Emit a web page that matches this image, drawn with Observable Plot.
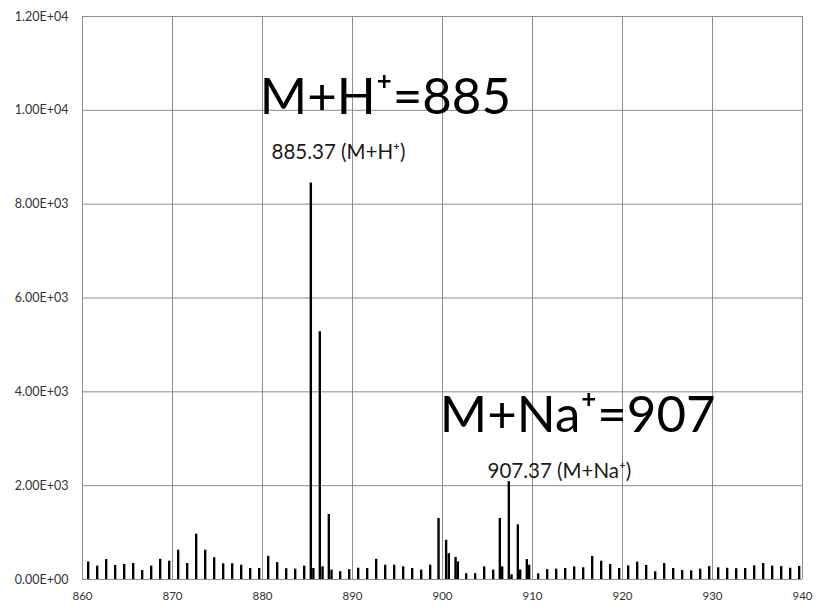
<!DOCTYPE html>
<html>
<head>
<meta charset="utf-8">
<script src="https://cdn.jsdelivr.net/npm/d3@7"></script>
<script src="https://cdn.jsdelivr.net/npm/@observablehq/plot@0.6"></script>
<style>
  html, body { margin: 0; padding: 0; background: #fff; }
  #chart { width: 818px; height: 610px; }
</style>
</head>
<body>
<div id="chart"></div>
<script>
// m/z of each peak and its intensity (counts)
const mz = [
  860.63, 861.63, 862.63, 863.63, 864.63, 865.63, 866.63, 867.63, 868.63, 869.63,
  870.63, 871.63, 872.63, 873.63, 874.63, 875.63, 876.63, 877.63, 878.63, 879.63,
  880.63, 881.63, 882.63, 883.63, 884.63, 885.37, 885.65, 886.37, 886.67, 887.37,
  887.67, 888.63, 889.63, 890.63, 891.63, 892.63, 893.63, 894.63, 895.63, 896.63,
  897.63, 898.63, 899.56, 900.40, 900.70, 901.45, 901.70, 902.63, 903.63, 904.63,
  905.63, 906.37, 906.63, 907.37, 907.67, 908.37, 908.63, 909.37, 909.63, 910.63,
  911.63, 912.63, 913.63, 914.63, 915.63, 916.63, 917.63, 918.63, 919.63, 920.63,
  921.63, 922.63, 923.63, 924.63, 925.63, 926.63, 927.63, 928.63, 929.63, 930.63,
  931.63, 932.63, 933.63, 934.63, 935.63, 936.63, 937.63, 938.63, 939.63
];
const intensity = [
  375, 285, 425, 300, 320, 340, 190, 285, 430, 390,
  625, 340, 965, 625, 465, 335, 335, 305, 235, 235,
  495, 360, 230, 220, 285, 8450, 235, 5280, 270, 1385,
  200, 165, 210, 240, 235, 430, 305, 305, 270, 235,
  200, 305, 1300, 835, 550, 470, 375, 125, 125, 270,
  200, 1300, 270, 2085, 100, 1165, 205, 425, 305, 120,
  210, 220, 235, 270, 250, 490, 390, 320, 235, 290,
  370, 300, 165, 340, 235, 190, 185, 220, 275, 250,
  240, 230, 235, 290, 340, 285, 275, 240, 280
];

// axis ticks and their labels
const xTicks = [860, 870, 880, 890, 900, 910, 920, 930, 940];
const xTickLabels = ["860", "870", "880", "890", "900", "910", "920", "930", "940"];
const yTicks = [0, 2000, 4000, 6000, 8000, 10000, 12000];
const yTickLabels = ["0.00E+00", "2.00E+03", "4.00E+03", "6.00E+03", "8.00E+03", "1.00E+04", "1.20E+04"];

// annotations (anchored in data units)
const bigLabels = ["M+H\u207A=885", "M+Na\u207A=907"];
const bigLabelX = [879.7, 899.7];
const bigLabelY = [10280, 3500];
const smallLabels = ["885.37 (M+H\u207A)", "907.37 (M+Na\u207A)"];
const smallLabelX = [881.0, 905.0];
const smallLabelY = [9100, 2300];

const peaks = mz.map((m, i) => ({mz: m, intensity: intensity[i]}));
const big = bigLabels.map((t, i) => ({text: t, x: bigLabelX[i], y: bigLabelY[i]}));
const small = smallLabels.map((t, i) => ({text: t, x: smallLabelX[i], y: smallLabelY[i]}));

const W = 818, H = 610;
const mL = 82, mR = 16, mT = 16, mB = 31;
const gridColor = "#8c8c8c";

const chart = Plot.plot({
  width: W,
  height: H,
  marginLeft: mL,
  marginRight: mR,
  marginTop: mT,
  marginBottom: mB,
  style: {fontFamily: "Lato, 'Open Sans', sans-serif", background: "#fff", overflow: "visible"},
  x: {domain: [860, 940], axis: null},
  y: {domain: [0, 12000], axis: null},
  marks: [
    Plot.gridX(xTicks, {stroke: gridColor, strokeOpacity: 1, strokeWidth: 1}),
    Plot.gridY(yTicks, {stroke: gridColor, strokeOpacity: 1, strokeWidth: 1}),
    Plot.axisX(xTicks, {tickSize: 0, tickPadding: 12, tickFormat: (d, i) => xTickLabels[i], fontSize: 11.5, fill: "#333"}),
    Plot.axisY(yTicks, {tickSize: 0, tickPadding: 14, tickFormat: (d, i) => yTickLabels[i], fontSize: 12.5, fill: "#333"}),
    Plot.ruleX(peaks, {x: "mz", y1: () => 0, y2: "intensity", stroke: "#000", strokeWidth: 2.4}),
    Plot.text(big, {x: "x", y: "y", text: "text", textAnchor: "start", fontSize: 51, fill: "#000", fontFamily: "Lato"}),
    Plot.text(small, {x: "x", y: "y", text: "text", textAnchor: "start", fontSize: 20.5, fill: "#1a1a1a", fontFamily: "Lato"})
  ]
});
document.getElementById("chart").appendChild(chart);
</script>
</body>
</html>
